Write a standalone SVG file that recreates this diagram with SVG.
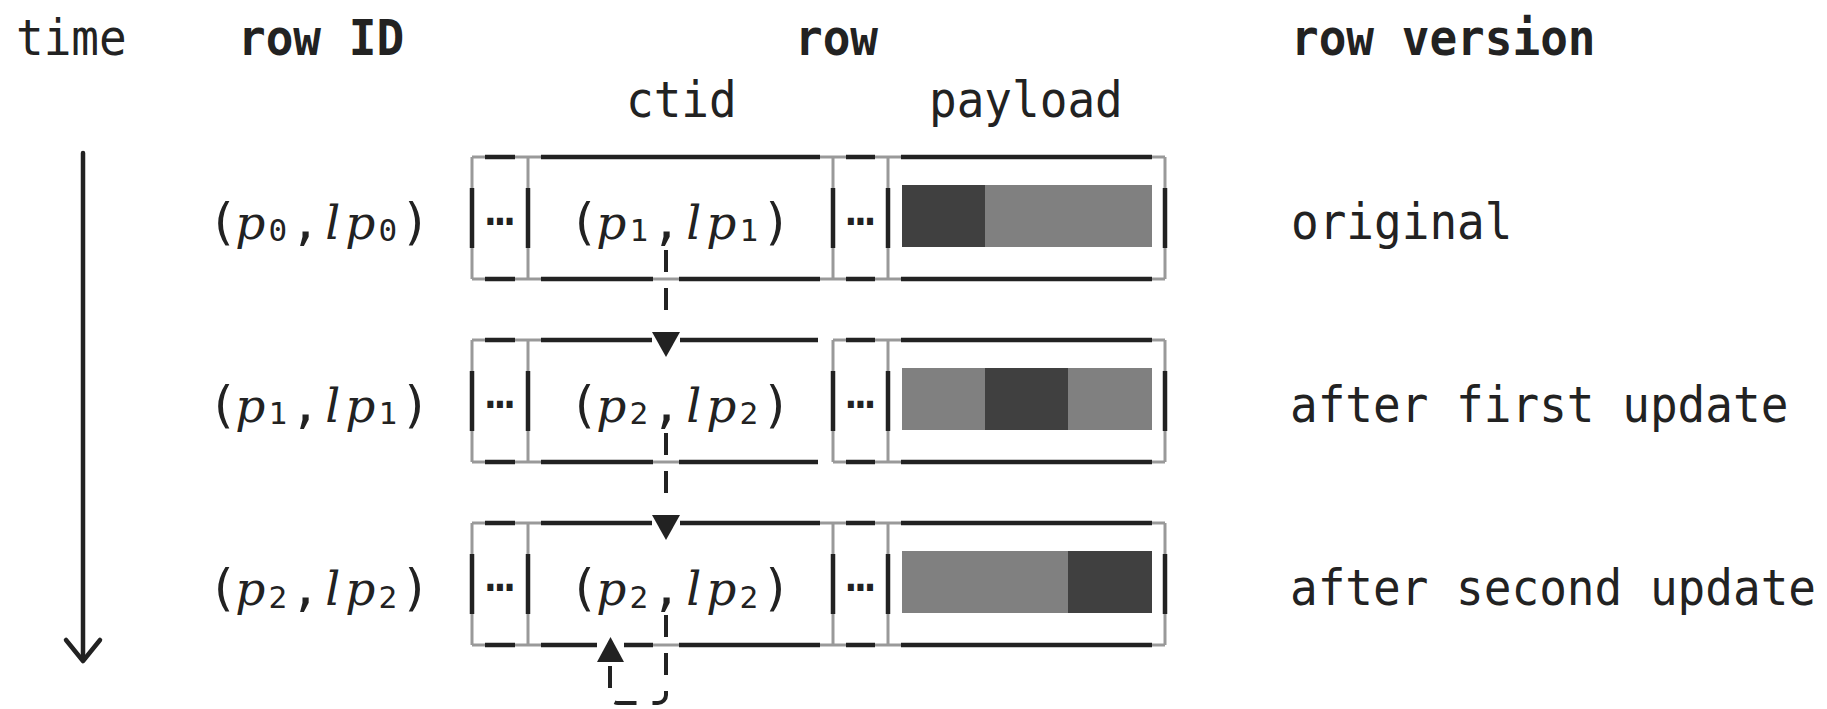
<svg xmlns="http://www.w3.org/2000/svg" width="1827" height="709" viewBox="0 0 1827 709">
<style>
.t{font-family:"DejaVu Sans Mono","Liberation Mono",monospace;font-size:46px;fill:#222}
.b{font-weight:bold}
.m{font-family:"DejaVu Sans Mono","Liberation Mono",monospace;font-size:50px;fill:#222}
.it{font-family:"DejaVu Serif","Liberation Serif",serif;font-style:italic;font-size:47px}
.sub{font-size:31px}
.el{font-family:"DejaVu Sans Mono",monospace;font-size:48px;fill:#222}
.g{stroke:#999;stroke-width:3;fill:none}
.d{stroke:#222;stroke-width:4.5;fill:none}
.dash{stroke:#222;stroke-width:4;fill:none;stroke-dasharray:22 16}
.bar1{fill:#404040}
.bar2{fill:#808080}
.tri{fill:#222}
</style>
<rect width="1827" height="709" fill="#fff"/>

<g id="headers">
<text class="t" transform="translate(16,55) scale(1,1.08)">time</text>
<text class="t b" transform="translate(238,55) scale(1,1.08)">row ID</text>
<text class="t b" transform="translate(795,55) scale(1,1.08)">row</text>
<text class="t b" transform="translate(1291,55) scale(1,1.08)">row version</text>
<text class="t" transform="translate(626,117) scale(1,1.08)">ctid</text>
<text class="t" transform="translate(929,117) scale(1,1.08)">payload</text>
</g>

<g id="time-axis">
<path class="d" d="M83,153 V659" stroke-linecap="round" stroke-width="4"/>
<path class="d" d="M66,640 L83,661 L100,640" stroke-linecap="round" stroke-linejoin="round" stroke-width="4"/>
</g>

<g id="row1">
<text class="m" y="238.5" text-anchor="middle"><tspan x="222.75">(</tspan><tspan x="250.25" class="it">p</tspan><tspan x="277.75" y="241" class="sub">0</tspan><tspan x="305.25" y="238.5">,</tspan><tspan x="332.75" class="it">l</tspan><tspan x="360.25" class="it">p</tspan><tspan x="387.75" y="241" class="sub">0</tspan><tspan x="415.25" y="238.5">)</tspan></text>
<path class="g" d="M472,157 H1165 M472,279 H1165 M472,157 V279 M528,157 V279 M833,157 V279 M888,157 V279 M1165,157 V279"/>
<path class="d" d="M485,157 H515 M541,157 H820 M846,157 H875 M901,157 H1152 M485,279 H515 M541,279 H653 M679,279 H820 M846,279 H875 M901,279 H1152 M472,188 V248 M528,188 V248 M833,188 V248 M888,188 V248 M1165,188 V248"/>
<text class="el" x="500" y="225" text-anchor="middle">…</text>
<text class="m" y="238.5" text-anchor="middle"><tspan x="583.75">(</tspan><tspan x="611.25" class="it">p</tspan><tspan x="638.75" y="241" class="sub">1</tspan><tspan x="666.25" y="238.5">,</tspan><tspan x="693.75" class="it">l</tspan><tspan x="721.25" class="it">p</tspan><tspan x="748.75" y="241" class="sub">1</tspan><tspan x="776.25" y="238.5">)</tspan></text>
<text class="el" x="860.5" y="225" text-anchor="middle">…</text>
<rect class="bar1" x="902" y="185" width="83" height="62"/>
<rect class="bar2" x="985" y="185" width="167" height="62"/>
<text class="t" transform="translate(1291,238.5) scale(1,1.08)">original</text>
</g>

<g id="row2">
<text class="m" y="421.5" text-anchor="middle"><tspan x="222.75">(</tspan><tspan x="250.25" class="it">p</tspan><tspan x="277.75" y="424" class="sub">1</tspan><tspan x="305.25" y="421.5">,</tspan><tspan x="332.75" class="it">l</tspan><tspan x="360.25" class="it">p</tspan><tspan x="387.75" y="424" class="sub">1</tspan><tspan x="415.25" y="421.5">)</tspan></text>
<path class="g" d="M472,340 H652 M680,340 H818 M472,462 H818 M472,340 V462 M528,340 V462 M833,340 H1165 M833,462 H1165 M833,340 V462 M888,340 V462 M1165,340 V462"/>
<path class="d" d="M485,340 H515 M541,340 H652 M680,340 H818 M846,340 H875 M901,340 H1152 M485,462 H515 M541,462 H653 M679,462 H818 M846,462 H875 M901,462 H1152 M472,371 V431 M528,371 V431 M833,371 V431 M888,371 V431 M1165,371 V431"/>
<text class="el" x="500" y="408" text-anchor="middle">…</text>
<text class="m" y="421.5" text-anchor="middle"><tspan x="583.75">(</tspan><tspan x="611.25" class="it">p</tspan><tspan x="638.75" y="424" class="sub">2</tspan><tspan x="666.25" y="421.5">,</tspan><tspan x="693.75" class="it">l</tspan><tspan x="721.25" class="it">p</tspan><tspan x="748.75" y="424" class="sub">2</tspan><tspan x="776.25" y="421.5">)</tspan></text>
<text class="el" x="860.5" y="408" text-anchor="middle">…</text>
<rect class="bar2" x="902" y="368" width="83" height="62"/>
<rect class="bar1" x="985" y="368" width="83" height="62"/>
<rect class="bar2" x="1068" y="368" width="84" height="62"/>
<text class="t" transform="translate(1290,421.5) scale(1,1.08)">after first update</text>
</g>

<g id="row3">
<text class="m" y="605" text-anchor="middle"><tspan x="222.75">(</tspan><tspan x="250.25" class="it">p</tspan><tspan x="277.75" y="607.5" class="sub">2</tspan><tspan x="305.25" y="605">,</tspan><tspan x="332.75" class="it">l</tspan><tspan x="360.25" class="it">p</tspan><tspan x="387.75" y="607.5" class="sub">2</tspan><tspan x="415.25" y="605">)</tspan></text>
<path class="g" d="M472,523 H652 M680,523 H1165 M472,645 H597 M624,645 H1165 M472,523 V645 M528,523 V645 M833,523 V645 M888,523 V645 M1165,523 V645"/>
<path class="d" d="M485,523 H515 M541,523 H652 M680,523 H820 M846,523 H875 M901,523 H1152 M485,645 H515 M541,645 H597 M624,645 H653 M679,645 H820 M846,645 H875 M901,645 H1152 M472,554 V614 M528,554 V614 M833,554 V614 M888,554 V614 M1165,554 V614"/>
<text class="el" x="500" y="591" text-anchor="middle">…</text>
<text class="m" y="605" text-anchor="middle"><tspan x="583.75">(</tspan><tspan x="611.25" class="it">p</tspan><tspan x="638.75" y="607.5" class="sub">2</tspan><tspan x="666.25" y="605">,</tspan><tspan x="693.75" class="it">l</tspan><tspan x="721.25" class="it">p</tspan><tspan x="748.75" y="607.5" class="sub">2</tspan><tspan x="776.25" y="605">)</tspan></text>
<text class="el" x="860.5" y="591" text-anchor="middle">…</text>
<rect class="bar2" x="902" y="551" width="166" height="62"/>
<rect class="bar1" x="1068" y="551" width="84" height="62"/>
<text class="t" transform="translate(1290,605) scale(1,1.08)">after second update</text>
</g>

<g id="connectors">
<path class="dash" d="M666,250 V310"/>
<polygon class="tri" points="652,332 680,332 666,357"/>
<path class="dash" d="M666,433 V493"/>
<polygon class="tri" points="652,515 680,515 666,540"/>
<path class="dash" d="M666,615 V695 A8,8 0 0 1 658,703 H618 A8,8 0 0 1 610,695 V662" stroke-dasharray="22 16 23 4 37.6 8 5 10 37.4 20"/>
<polygon class="tri" points="597,662 624,662 610.5,637"/>
</g>
</svg>
